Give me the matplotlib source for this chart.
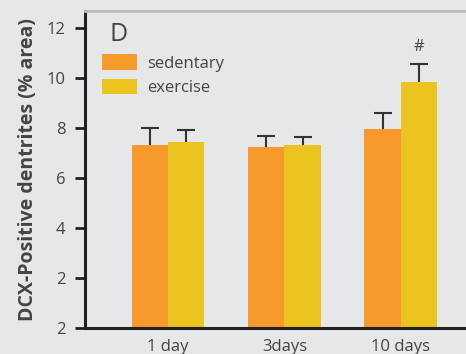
import matplotlib
matplotlib.use("Agg")
import matplotlib.pyplot as plt
from matplotlib.patches import Patch
import numpy as np

categories = ["1 day", "3days", "10 days"]
sedentary = [7.32, 7.24, 7.96]
sedentary_err = [0.65, 0.42, 0.62]
exercise = [7.44, 7.32, 9.84]
exercise_err = [0.48, 0.32, 0.72]
ytick_values = [0, 2, 4, 6, 8, 10, 12]
ytick_labels = ["2", "2", "4", "6", "8", "10", "12"]

bg = "#e6e7e9"
c_sed = "#f7992b"
c_ex = "#ebc41f"
txt = "#444444"

plt.rcParams['font.family'] = ['Open Sans', 'DejaVu Sans']

W, H = 466, 354
fig = plt.figure(figsize=(W / 100, H / 100), dpi=100)
fig.patch.set_facecolor(bg)
ax = fig.add_axes([85 / W, (H - 327.7) / H, (W - 85) / W + 0.01, (327.7 - 11) / H])
ax.set_facecolor(bg)

x = np.arange(len(categories))
w = 0.313
ax.bar(x - w / 2, sedentary, width=w, color=c_sed, zorder=2)
ax.bar(x + w / 2, exercise, width=w, color=c_ex, zorder=2)
for xs, vals, errs in [(x - w / 2, sedentary, sedentary_err), (x + w / 2, exercise, exercise_err)]:
    eb = ax.errorbar(xs, vals, yerr=[np.zeros(3), errs], fmt='none',
                     ecolor="#333333", elinewidth=1.5, capsize=6.5, capthick=1.5, zorder=1)
    eb[1][0].set_visible(False)

ax.text(x[2] + w / 2, exercise[2] + exercise_err[2] + 0.35, "#", ha='center', va='bottom',
        fontsize=12, color=txt)

ax.set_xlim(-0.713, 2.6)
ax.set_ylim(0, 12.66)
ax.set_yticks(ytick_values)
ax.set_yticklabels(ytick_labels)
ax.set_xticks(x)
ax.set_xticklabels(categories)
ax.tick_params(axis='y', direction='out', length=7, width=2, color="#231f20",
               labelsize=12, labelcolor=txt, pad=7)
ax.tick_params(axis='x', length=0, labelsize=12, labelcolor=txt, pad=8)

for s in ['left', 'bottom']:
    ax.spines[s].set_color("#231f20")
    ax.spines[s].set_linewidth(2.2)
ax.spines['right'].set_visible(False)
ax.spines['top'].set_color("#bbbbbb")
ax.spines['top'].set_linewidth(2)

ax.set_ylabel("DCX-Positive dentrites (% area)", fontsize=14, fontweight='bold', color=txt, labelpad=6)

ax.text(0.063, 0.965, "D", transform=ax.transAxes, fontsize=18, color=txt, va='top', ha='left')

handles = [Patch(facecolor=c_sed), Patch(facecolor=c_ex)]
leg = ax.legend(handles, ["sedentary", "exercise"], loc='upper left',
                bbox_to_anchor=(0.028, 0.885), frameon=False, fontsize=12,
                handlelength=2.05, handleheight=1.08, handletextpad=0.6,
                labelspacing=0.42, borderaxespad=0)
for t in leg.get_texts():
    t.set_color(txt)

fig.savefig("out.png", dpi=100, facecolor=bg)
